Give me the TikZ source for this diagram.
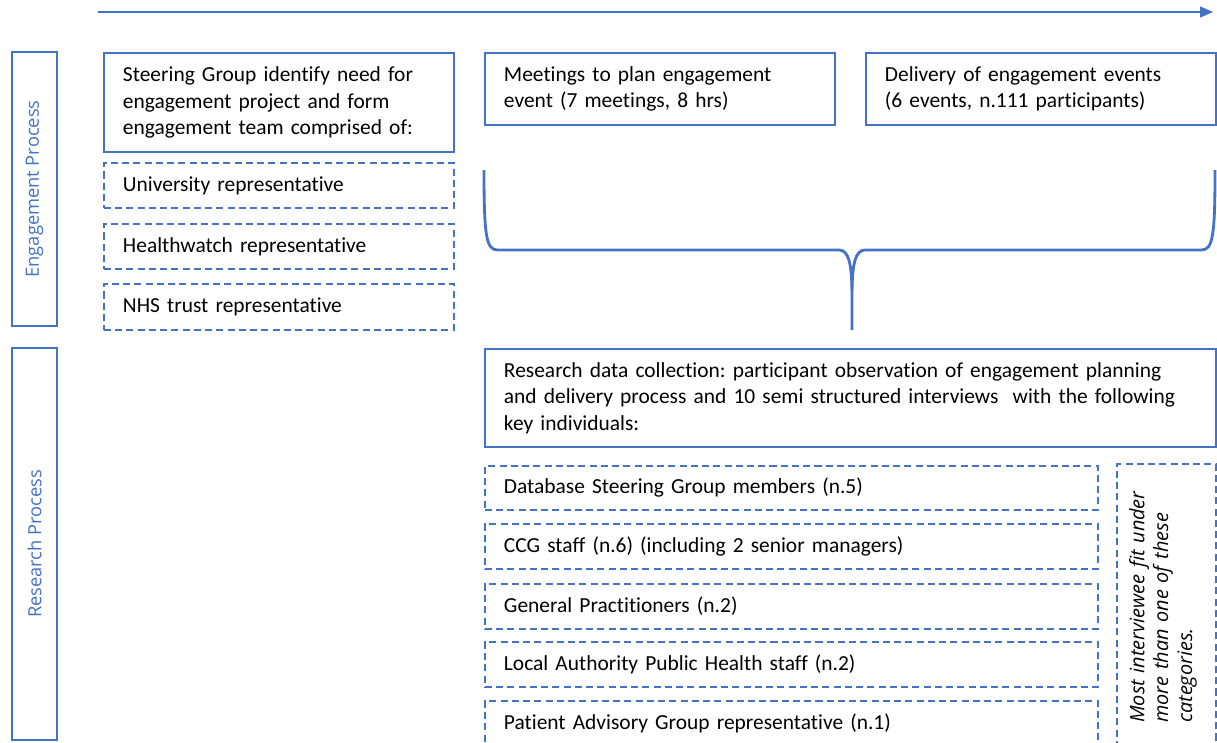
\documentclass[tikz,border=0pt]{standalone}
\usepackage{fontspec}
\setmainfont{Carlito}[Ligatures=NoCommon]
\newfontfamily\sidefont{Open Sans}
\usetikzlibrary{arrows.meta}
\definecolor{procblue}{HTML}{4472C4}
\def\boxfont{\fontsize{12.2}{15}\selectfont}
\frenchspacing

\begin{document}
\begin{tikzpicture}[
		solidbox/.style={draw=procblue, line width=1.1pt, inner xsep=0.38cm, inner ysep=0pt, align=left, anchor=north west, font=\boxfont},
		dashbox/.style={draw=procblue, line width=1.1pt, dash pattern=on 4pt off 2.4pt, inner xsep=0.38cm, inner ysep=0pt, minimum height=0.9cm, align=left, anchor=north west, font=\boxfont},
		sidebox/.style={draw=procblue, line width=1.1pt, rotate=90, minimum height=0.9cm, text=procblue, font=\sidefont\fontsize{10.4}{12}\selectfont}
	]
			%%%%% START %%%%%
			\useasboundingbox (0, 0) rectangle (24.34, -14.84);
			
			% time arrow
			\coordinate (tstart) at (1.96, -0.24);
			\coordinate (tend) at (24.26, -0.24);
			\draw[procblue, line width=0.8pt, -{Triangle[length=0.26cm, width=0.22cm]}] (tstart) -- (tend);
			
			% process labels
			\node[sidebox, minimum width=5.48cm] (engproc) at (0.69, -3.78) {Engagement Process};
			\node[sidebox, minimum width=7.84cm] (resproc) at (0.69, -10.88) {Research Process};
			
			% engagement team
			\node[solidbox, text width=6.24cm, minimum height=1.98cm] (steer) at (2.06, -1.04) {Steering Group identify need for\\engagement project and form\\engagement team comprised of:};
			\node[dashbox, text width=6.24cm] (univ) at (2.06, -3.24) {University representative};
			\node[dashbox, text width=6.24cm] (hwatch) at (2.06, -4.46) {Healthwatch representative};
			\node[dashbox, text width=6.24cm, minimum height=0.92cm] (nhs) at (2.06, -5.66) {NHS trust representative};
			
			% engagement events
			\node[solidbox, text width=6.24cm, minimum height=1.44cm] (meet) at (9.68, -1.04) {Meetings to plan engagement\\event (7 meetings, 8 hrs)};
			\node[solidbox, text width=6.24cm, minimum height=1.44cm] (deliv) at (17.3, -1.04) {Delivery of engagement events\\(6 events, n.111 participants)};
			
			% brace
			\coordinate (bleft) at (9.68, -3.4);
			\coordinate (bright) at (24.3, -3.4);
			\coordinate (btip) at (17.04, -6.6);
			\draw[procblue, line width=1.6pt] (bleft) .. controls (9.68, -4.7) and (9.72, -5.0) .. (9.95, -5.0) -- (16.78, -5.0) .. controls (16.98, -5.0) and (17.03, -5.3) .. (17.04, -5.8) -- (btip);
			\draw[procblue, line width=1.6pt] (17.04, -5.8) .. controls (17.05, -5.3) and (17.1, -5.0) .. (17.3, -5.0) -- (24.03, -5.0) .. controls (24.26, -5.0) and (24.3, -4.7) .. (bright);
			
			% research data collection
			\node[solidbox, text width=13.86cm, minimum height=1.96cm] (research) at (9.68, -6.96) {Research data collection: participant observation of engagement planning\\and delivery process and 10 semi structured interviews~ with the following\\key individuals:};
			\node[dashbox, text width=11.5cm, minimum height=0.88cm] (dsg) at (9.68, -9.3) {Database Steering Group members (n.5)};
			\node[dashbox, text width=11.5cm] (ccg) at (9.68, -10.46) {CCG staff (n.6) (including 2 senior managers)};
			\node[dashbox, text width=11.5cm] (gps) at (9.68, -11.66) {General Practitioners (n.2)};
			\node[dashbox, text width=11.5cm] (lauth) at (9.68, -12.82) {Local Authority Public Health staff (n.2)};
			\node[dashbox, text width=11.5cm] (pag) at (9.68, -14.0) {Patient Advisory Group representative (n.1)};
			
			% note
			\node[dashbox, minimum width=1.98cm, minimum height=5.8cm, inner sep=0pt] (note) at (22.32, -9.26) {};
			\node[rotate=90, anchor=west, inner sep=0pt, text width=5cm, align=left, font=\sidefont\itshape\fontsize{11.3}{13.6}\selectfont] (notetext) at (23.26, -14.46) {Most interviewee fit under\\more than one of these\\categories.};
			%%%%% END %%%%%
		\end{tikzpicture}
\end{document}
